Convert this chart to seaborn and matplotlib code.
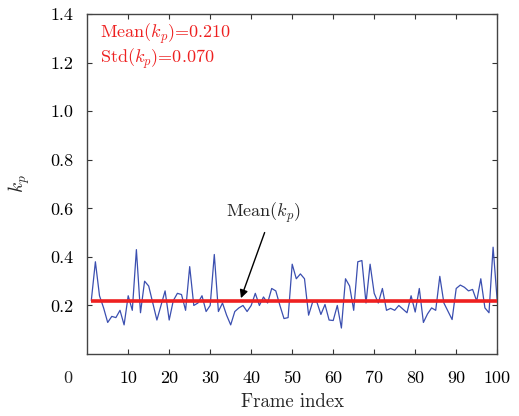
import matplotlib
matplotlib.use('Agg')
import matplotlib.pyplot as plt
import seaborn as sns
import numpy as np
import pandas as pd

# k_p per frame
frame = np.arange(1, 101)
kp = [0.22, 0.38, 0.24, 0.19, 0.13, 0.155, 0.15, 0.18, 0.12, 0.24,
      0.18, 0.43, 0.17, 0.30, 0.28, 0.21, 0.14, 0.20, 0.26, 0.14,
      0.22, 0.25, 0.245, 0.18, 0.36, 0.20, 0.21, 0.24, 0.175, 0.20,
      0.41, 0.175, 0.21, 0.16, 0.12, 0.175, 0.19, 0.20, 0.175, 0.20,
      0.25, 0.20, 0.235, 0.21, 0.27, 0.26, 0.20, 0.146, 0.15, 0.37,
      0.31, 0.33, 0.31, 0.16, 0.215, 0.215, 0.163, 0.204, 0.14, 0.138,
      0.20, 0.107, 0.31, 0.28, 0.18, 0.38, 0.385, 0.21, 0.37, 0.25,
      0.21, 0.27, 0.18, 0.188, 0.18, 0.20, 0.185, 0.17, 0.24, 0.173,
      0.27, 0.13, 0.165, 0.19, 0.18, 0.32, 0.21, 0.176, 0.142, 0.27,
      0.284, 0.275, 0.26, 0.266, 0.218, 0.31, 0.19, 0.17, 0.44, 0.22]
mean_level = 0.22
mean_text = "0.210"
std_text = "0.070"
xticks = list(range(10, 101, 10))
yticks = [0.2, 0.4, 0.6, 0.8, 1.0, 1.2, 1.4]

df = pd.DataFrame({'frame': frame, 'kp': kp})

sns.set_style('ticks')
plt.rcParams['font.family'] = 'serif'
plt.rcParams['font.serif'] = ['cmr10']
plt.rcParams['mathtext.fontset'] = 'cm'
plt.rcParams['axes.unicode_minus'] = False

fig = plt.figure(figsize=(5.19, 4.16), dpi=100)
ax = fig.add_axes([0.168, 0.149, 0.79, 0.817])

sns.lineplot(data=df, x='frame', y='kp', ax=ax, color='#3b4fb0', linewidth=0.9)
ax.hlines(mean_level, frame[0], frame[-1], color='#ee2020', linewidth=2.6, zorder=3)

ax.set_xlim(0, 100)
ax.set_ylim(0, 1.4)
ax.set_xticks(xticks)
ax.set_xticklabels([str(t) for t in xticks])
ax.set_yticks(yticks)
ax.set_yticklabels([f"{t:.1f}" for t in yticks])
ax.tick_params(direction='in', length=3.5, width=0.8, top=True, right=True,
               labelsize=13, colors='#333333', labelcolor='black')
ax.tick_params(axis='x', pad=12)
ax.tick_params(axis='y', pad=10)
ax.text(-4.7, -0.10, '0', fontsize=13, ha='center', va='center', clip_on=False)

for s in ax.spines.values():
    s.set_color('#444444')
    s.set_linewidth(1.0)

ax.set_xlabel('Frame index', fontsize=13.5, labelpad=5)
ax.set_ylabel(r'$k_p$', fontsize=14, labelpad=13)

ax.text(0.032, 0.978, r'Mean($k_p$)=' + mean_text, transform=ax.transAxes,
        color='#ee2020', fontsize=13, va='top', ha='left')
ax.text(0.032, 0.905, r'Std($k_p$)=' + std_text, transform=ax.transAxes,
        color='#ee2020', fontsize=13, va='top', ha='left')

ax.annotate(r'Mean($k_p$)', xy=(37.5, mean_level + 0.01), xytext=(43, 0.58),
            fontsize=13, ha='center', va='center',
            arrowprops=dict(arrowstyle='-|>', color='black', lw=1.0,
                            mutation_scale=12, shrinkA=3, shrinkB=0,
                            relpos=(0.55, 0.0)))

fig.savefig('out.png', dpi=100)
